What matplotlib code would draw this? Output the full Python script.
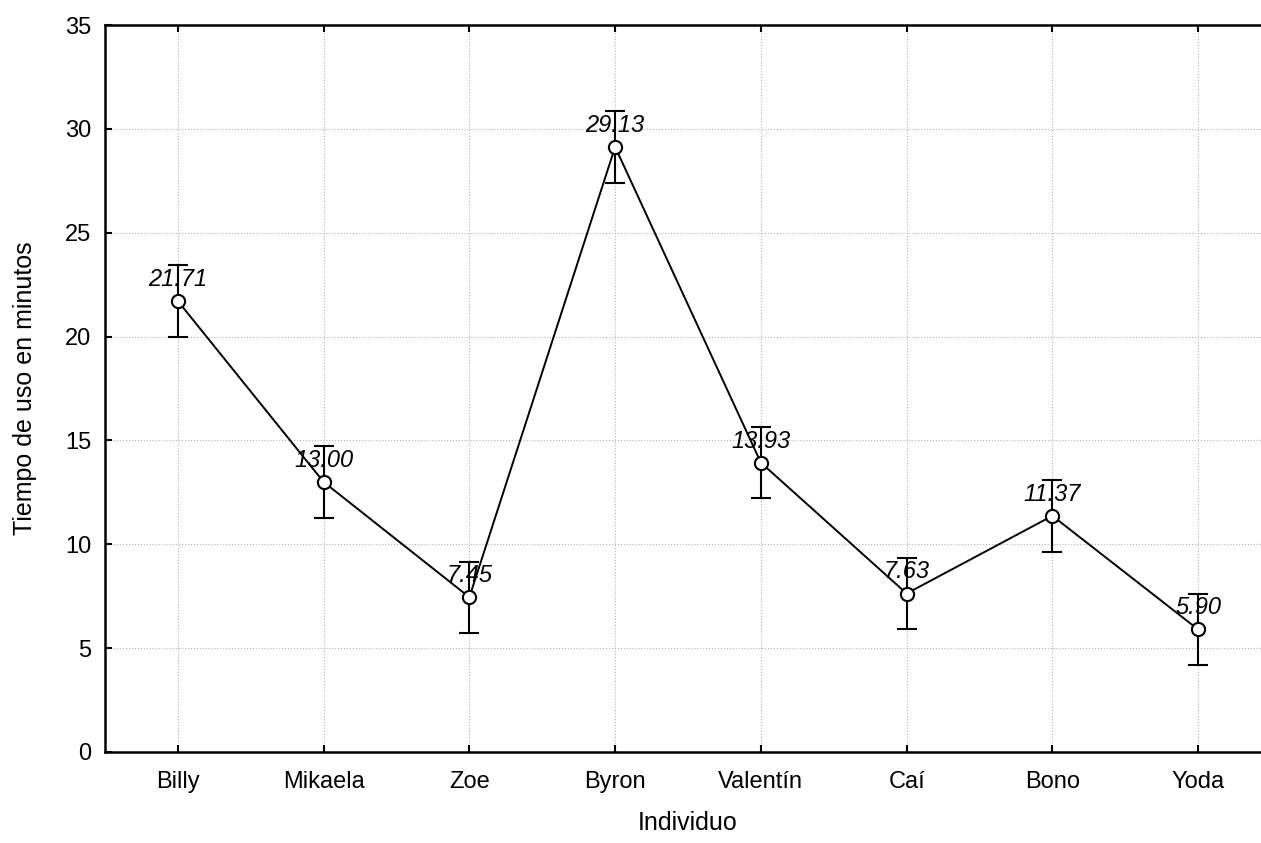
import numpy as np
import matplotlib.pyplot as plt

plt.rcParams['font.family'] = ['Liberation Sans', 'DejaVu Sans']

individuos = ['Billy', 'Mikaela', 'Zoe', 'Byron', 'Valentín', 'Caí', 'Bono', 'Yoda']
medias = [21.71, 13.00, 7.45, 29.13, 13.93, 7.63, 11.37, 5.90]
errores = [1.72, 1.72, 1.72, 1.72, 1.72, 1.72, 1.72, 1.72]

fig = plt.figure(figsize=(12.61, 8.43), dpi=100)
ax = fig.add_axes([105 / 1261, 91 / 843, 1166 / 1261, 727 / 843])

x = np.arange(len(individuos))

ax.grid(True, color='#b4b4b4', linestyle=':', linewidth=0.8, zorder=0)

# etiquetas con la media sobre cada punto
for xi, m in zip(x, medias):
    ax.annotate(f'{m:.2f}', (xi, m), xytext=(0, 15.5), textcoords='offset points',
                ha='center', va='center', fontsize=17, style='italic', zorder=2)

ax.errorbar(x, medias, yerr=errores, fmt='none', ecolor='black', elinewidth=1.5,
            capsize=7, capthick=1.5, zorder=3)
ax.plot(x, medias, color='black', linewidth=1.4, marker='o', markersize=9.5,
        markerfacecolor='white', markeredgecolor='black', markeredgewidth=1.5, zorder=4)

ax.set_xlim(-0.5, len(individuos) - 0.5)
ax.set_ylim(0, 35)
ax.set_yticks(np.arange(0, 36, 5))
ax.set_xticks(x)
ax.set_xticklabels(individuos)

ax.tick_params(direction='in', length=5, width=1.5, labelsize=17,
               top=True, right=True)
ax.tick_params(axis='x', pad=14)
ax.tick_params(axis='y', pad=10)
for sp in ax.spines.values():
    sp.set_linewidth(1.8)

ax.set_xlabel('Individuo', fontsize=18, labelpad=13)
ax.set_ylabel('Tiempo de uso en minutos', fontsize=18, labelpad=20)

fig.savefig('out.png', dpi=100)
